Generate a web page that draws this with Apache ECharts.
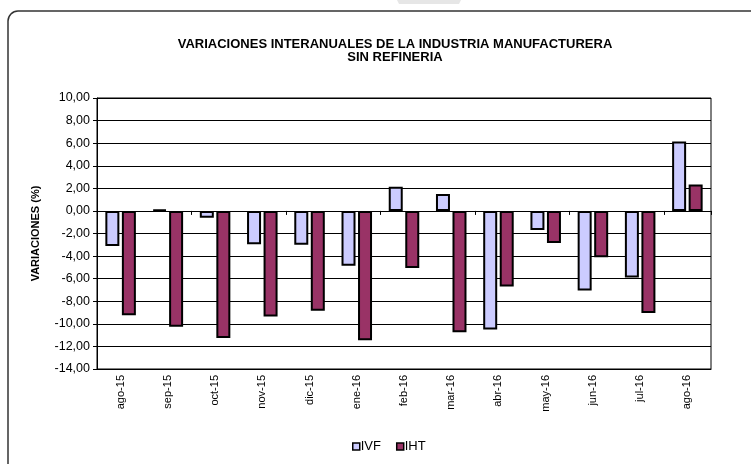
<!DOCTYPE html>
<html>
<head>
<meta charset="utf-8">
<script src="https://cdn.jsdelivr.net/npm/echarts@6/dist/echarts.min.js"></script>
<style>html,body{margin:0;padding:0;background:#fff;}#c{width:751px;height:464px;}</style>
</head>
<body>
<div id="c"></div>
<script>
const categories = ['ago-15','sep-15','oct-15','nov-15','dic-15','ene-16','feb-16','mar-16','abr-16','may-16','jun-16','jul-16','ago-16'];
const ivf = [-3.1, 0.1, -0.6, -2.95, -3.0, -4.85, 2.15, 1.5, -10.5, -1.7, -7.05, -5.9, 6.15];
const iht = [-9.25, -10.25, -11.25, -9.35, -8.85, -11.45, -5.05, -10.75, -6.7, -2.85, -4.1, -9.05, 2.35];
const yTicks = {min: -14, max: 10, interval: 2};

const FONT = 'Arial, "Liberation Sans", sans-serif';
const chart = echarts.init(document.getElementById('c'), null, {renderer: 'canvas'});
chart.setOption({
  backgroundColor: '#fff',
  animation: false,
  title: {
    text: 'VARIACIONES INTERANUALES DE LA INDUSTRIA MANUFACTURERA\nSIN REFINERIA',
    left: 395, top: 38, textAlign: 'center', padding: 0,
    textStyle: {fontFamily: FONT, fontSize: 13, fontWeight: 'bold', color: '#000', lineHeight: 13}
  },
  graphic: [
    {type: 'rect', shape: {x: 8, y: 11, width: 780, height: 500, r: 10}, style: {fill: 'none', stroke: '#333', lineWidth: 1.5}, silent: true},
    {type: 'polygon', shape: {points: [[397,0],[461,0],[459,4],[399,4]]}, style: {fill: '#e6e6e6'}, silent: true}
  ],
  legend: {
    data: ['IVF', 'IHT'],
    left: 352, top: 440, padding: 0,
    itemWidth: 7, itemHeight: 7, itemGap: 15, icon: 'rect',
    itemStyle: {borderColor: '#000', borderWidth: 1.5},
    textStyle: {fontFamily: FONT, fontSize: 13, color: '#000', padding: [0, 0, 0, -4]}
  },
  grid: {left: 97, right: 40, top: 98, bottom: 95, show: true, borderColor: '#000', borderWidth: 1, backgroundColor: 'transparent'},
  xAxis: [
    {
      type: 'category', data: categories, position: 'bottom',
      axisLine: {onZero: false, lineStyle: {color: '#000', width: 1}},
      axisTick: {show: false},
      axisLabel: {rotate: 90, interval: 0, margin: 6, fontFamily: FONT, fontSize: 11, color: '#000'}
    },
    {
      type: 'category', data: categories, position: 'top',
      axisLine: {onZero: true, lineStyle: {color: '#000', width: 1}},
      axisTick: {show: true, inside: true, length: 4, lineStyle: {color: '#000'}},
      axisLabel: {show: false}
    }
  ],
  yAxis: {
    type: 'value', min: yTicks.min, max: yTicks.max, interval: yTicks.interval,
    name: 'VARIACIONES (%)', nameLocation: 'middle', nameRotate: 90, nameGap: 56,
    nameTextStyle: {fontFamily: FONT, fontSize: 11, fontWeight: 'bold', color: '#000'},
    axisLine: {show: true, lineStyle: {color: '#000', width: 1}},
    axisTick: {show: true, length: 4, lineStyle: {color: '#000'}},
    axisLabel: {margin: 7, fontFamily: FONT, fontSize: 12.5, color: '#000',
      formatter: v => v.toFixed(2).replace('.', ',')},
    splitLine: {show: true, lineStyle: {color: '#000', width: 1}}
  },
  series: [
    {name: 'IVF', type: 'bar', data: ivf, xAxisIndex: 0, barWidth: 14, barGap: '18%',
      itemStyle: {color: '#CCCCFF', borderColor: '#000', borderWidth: 2}},
    {name: 'IHT', type: 'bar', data: iht, xAxisIndex: 0, barWidth: 14,
      itemStyle: {color: '#993366', borderColor: '#000', borderWidth: 2}}
  ]
});
</script>
</body>
</html>
